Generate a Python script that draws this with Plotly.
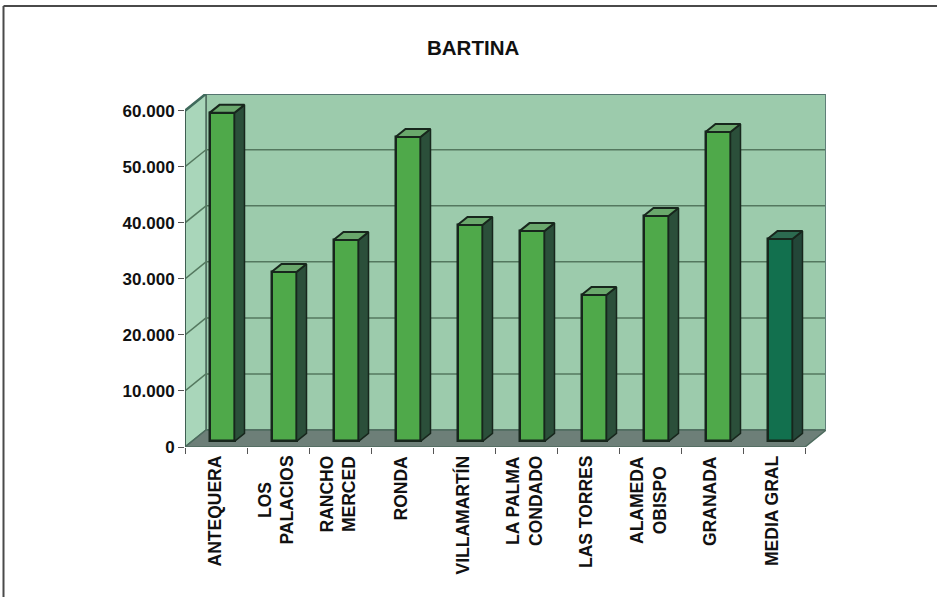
import plotly.graph_objects as go

categories = ["ANTEQUERA", "LOS<br>PALACIOS", "RANCHO<br>MERCED", "RONDA", "VILLAMARTÍN",
              "LA PALMA<br>CONDADO", "LAS TORRES", "ALAMEDA<br>OBISPO", "GRANADA", "MEDIA GRAL"]
values = [58600, 30200, 35900, 54300, 38600, 37500, 26100, 40200, 55200, 36100]
y_ticks = [0, 10000, 20000, 30000, 40000, 50000, 60000]
y_tick_labels = ["0", "10.000", "20.000", "30.000", "40.000", "50.000", "60.000"]
title_text = "BARTINA"

W, H = 937, 597
L, R, T, B = 185, 826, 94, 446.7
PX_X = 62.0           # px per category
PX_Y = 5.6 / 1000     # px per value unit
n = len(categories)
WALL_DX = 21 / PX_X
WALL_DY = 17 / PX_Y
BAR_W = 25 / PX_X
BAR_DX0 = 6.5 / PX_X   # front face shift into the depth
BAR_DY0 = 5.7 / PX_Y
BAR_DX = 10 / PX_X     # bar depth
BAR_DY = 8 / PX_Y
X_MAX = (R - L) / PX_X
Y_MAX = (B - T) / PX_Y

INK = "#17261c"
WALL_EDGE = "#4d6b5e"
GRID = "#54785f"
FONT = "Liberation Sans"


def poly(xs, ys, fill, line=WALL_EDGE, width=1.5):
    path = "M " + " L ".join(f"{a:.4f},{b:.2f}" for a, b in zip(xs, ys)) + " Z"
    return dict(type="path", path=path, xref="x", yref="y", fillcolor=fill,
                line=dict(color=line, width=width), layer="below")


def seg(x0, y0, x1, y1, color=GRID, width=1.5):
    return dict(type="line", x0=x0, y0=y0, x1=x1, y1=y1, xref="x", yref="y",
                line=dict(color=color, width=width), layer="below")


def page_line(x0, y0, x1, y1):
    return dict(type="line", xref="paper", yref="paper",
                x0=(x0 - L) / (R - L), x1=(x1 - L) / (R - L),
                y0=(B - y0) / (B - T), y1=(B - y1) / (B - T),
                line=dict(color="#4a4a4a", width=2), layer="below")


top = y_ticks[-1]
shapes = [
    poly([WALL_DX, X_MAX, X_MAX, WALL_DX], [WALL_DY, WALL_DY, top + WALL_DY, top + WALL_DY], "#9ccbac"),
    poly([0, WALL_DX, WALL_DX, 0], [0, WALL_DY, top + WALL_DY, top], "#a9d6ba"),
    poly([0, n, X_MAX, WALL_DX], [0, 0, WALL_DY, WALL_DY], "#6d7f78"),
]
for t in y_ticks[1:-1]:
    shapes.append(seg(WALL_DX, t + WALL_DY, X_MAX, t + WALL_DY))
    shapes.append(seg(0, t, WALL_DX, t + WALL_DY))
shapes.append(seg(0, 0, 0, top, color="#3f5f52", width=2))
shapes.append(seg(WALL_DX, top + WALL_DY, X_MAX, top + WALL_DY, color="#557570", width=2.5))
shapes.append(seg(0, top, WALL_DX, top + WALL_DY, color="#3f6a5c", width=2.5))
shapes.append(seg(X_MAX, WALL_DY, X_MAX, top + WALL_DY, color="#5f7f78", width=2))
shapes.append(page_line(3.5, 6, W, 6))
shapes.append(page_line(3.5, 6, 3.5, H))

centers = [i + 0.5 + BAR_DX0 - 0.5 / PX_X for i in range(n)]
front_colors = ["#4fa94a"] * (n - 1) + ["#12704e"]
side_colors = ["#2b4f3a"] * (n - 1) + ["#234638"]
top_colors = ["#6aa86c"] * (n - 1) + ["#2c6a50"]

fig = go.Figure()
fig.add_trace(go.Bar(
    x=centers, y=values, base=[BAR_DY0] * n, width=BAR_W,
    marker=dict(color=front_colors, line=dict(color=INK, width=2.5)),
    hoverinfo="skip", showlegend=False,
))
for c, v, sc, tc in zip(centers, values, side_colors, top_colors):
    xr = c + BAR_W / 2
    xl = c - BAR_W / 2
    y0 = BAR_DY0
    y1 = BAR_DY0 + v
    fig.add_trace(go.Scatter(
        x=[xr, xr + BAR_DX, xr + BAR_DX, xr, xr], y=[y0, y0 + BAR_DY, y1 + BAR_DY, y1, y0],
        mode="lines", fill="toself", fillcolor=sc, line=dict(color=INK, width=1.5),
        hoverinfo="skip", showlegend=False,
    ))
    fig.add_trace(go.Scatter(
        x=[xl, xr, xr + BAR_DX, xl + BAR_DX, xl], y=[y1, y1, y1 + BAR_DY, y1 + BAR_DY, y1],
        mode="lines", fill="toself", fillcolor=tc, line=dict(color=INK, width=2),
        hoverinfo="skip", showlegend=False,
    ))

annotations = [
    dict(x=i + 0.5, y=0, xref="x", yref="y", text=label, textangle=-90, showarrow=False,
         xanchor="center", yanchor="top", yshift=-7, xshift=-2, align="center",
         font=dict(family=FONT, size=17.5, color="#111111", weight="bold"))
    for i, label in enumerate(categories)
]
annotations.append(dict(x=(473 - L) / (R - L), y=(B - 48) / (B - T), xref="paper", yref="paper",
                        text=title_text, showarrow=False, xanchor="center", yanchor="middle",
                        font=dict(family=FONT, size=20.5, color="#111111", weight="bold")))

fig.update_layout(
    width=W, height=H, autosize=False, bargap=0,
    margin=dict(l=L, r=W - R, t=T, b=H - B, pad=0),
    paper_bgcolor="white", plot_bgcolor="white",
    shapes=shapes, annotations=annotations,
    xaxis=dict(range=[0, X_MAX], showgrid=False, zeroline=False, showline=False,
               tickmode="array", tickvals=list(range(n + 1)), ticktext=[""] * (n + 1),
               ticks="outside", ticklen=6, tickcolor="#555555", tickwidth=1),
    yaxis=dict(range=[0, Y_MAX], showgrid=False, zeroline=False, showline=False,
               tickmode="array", tickvals=y_ticks, ticktext=y_tick_labels,
               ticks="outside", ticklen=6, tickcolor="#555555", tickwidth=1,
               tickfont=dict(family=FONT, size=17, color="#111111", weight="bold")),
)
fig.write_html("out.html", config=dict(displayModeBar=False),
               post_script="document.body.style.margin='0';document.body.style.overflow='hidden';")
